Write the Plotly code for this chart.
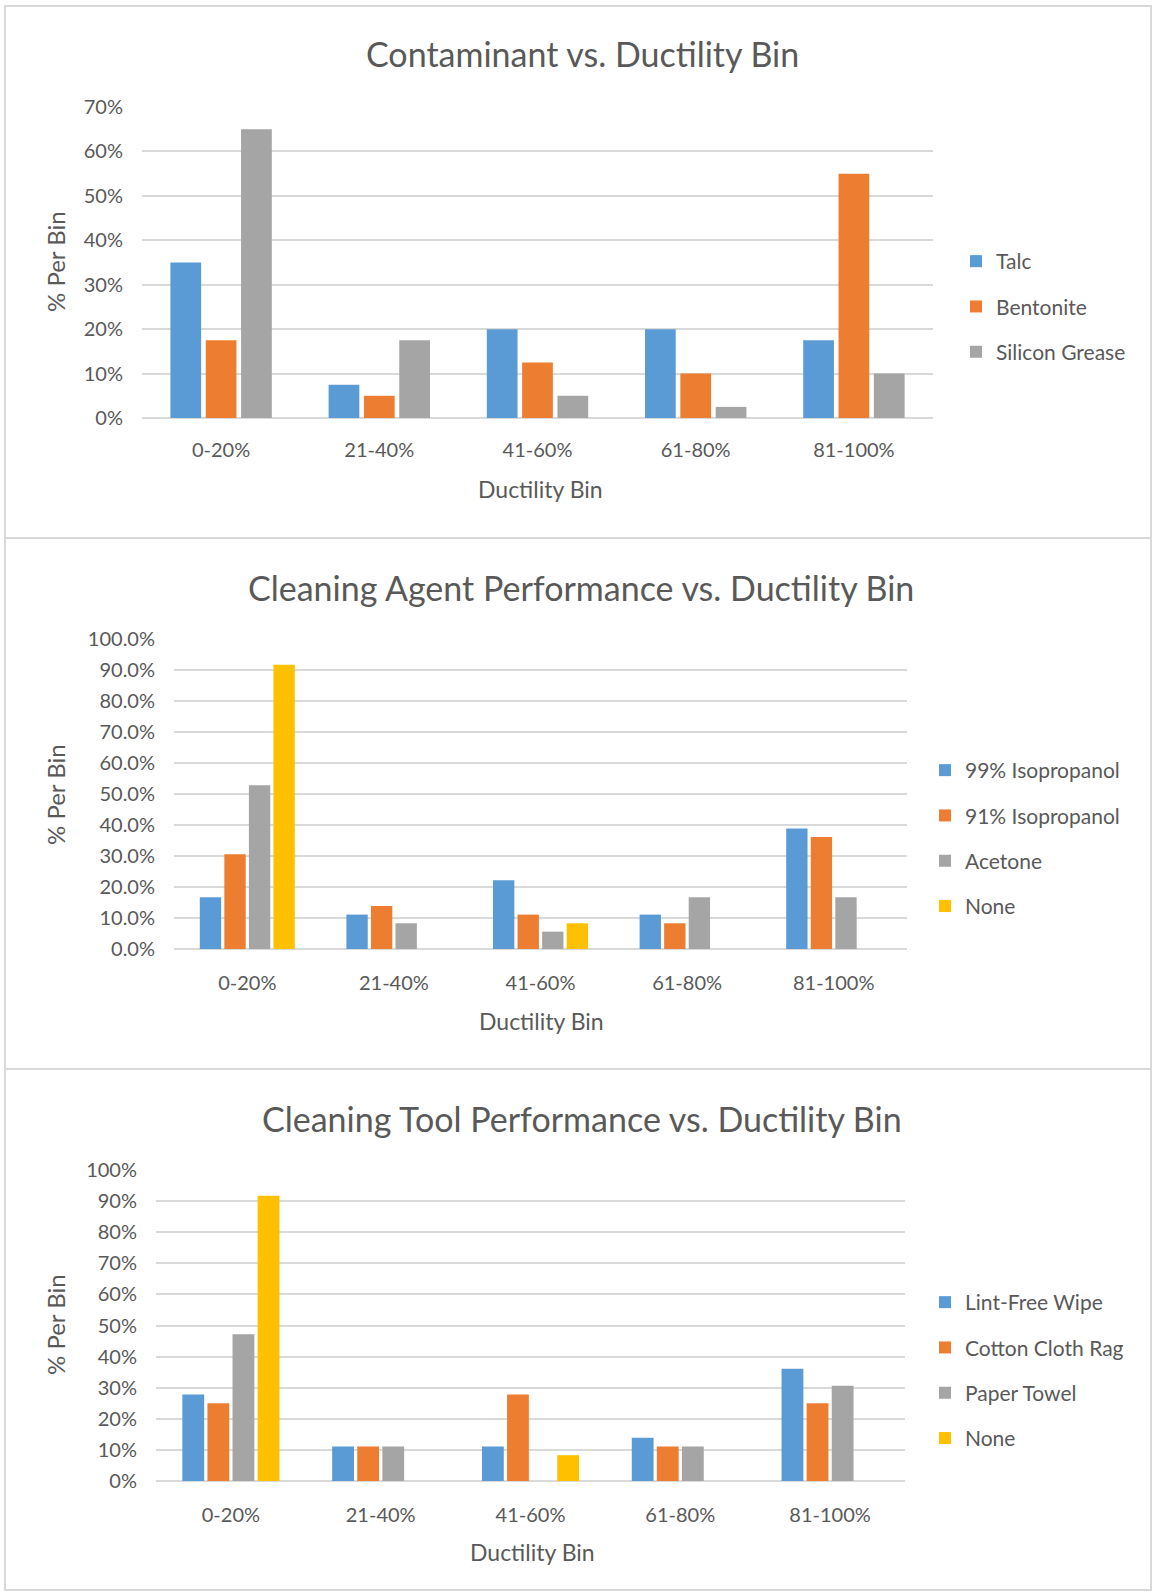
import plotly.graph_objects as go

W, H = 1152, 1596

bins = ["0-20%", "21-40%", "41-60%", "61-80%", "81-100%"]

# Chart 1: Contaminant
c1_names = ["Talc", "Bentonite", "Silicon Grease"]
talc = [0.35, 0.075, 0.20, 0.20, 0.175]
bentonite = [0.175, 0.05, 0.125, 0.10, 0.55]
silicon_grease = [0.65, 0.175, 0.05, 0.025, 0.10]

# Chart 2: Cleaning agent
c2_names = ["99% Isopropanol", "91% Isopropanol", "Acetone", "None"]
iso99 = [0.167, 0.111, 0.222, 0.111, 0.389]
iso91 = [0.306, 0.139, 0.111, 0.083, 0.361]
acetone = [0.528, 0.083, 0.056, 0.167, 0.167]
agent_none = [0.917, 0.0, 0.083, 0.0, 0.0]

# Chart 3: Cleaning tool
c3_names = ["Lint-Free Wipe", "Cotton Cloth Rag", "Paper Towel", "None"]
lint_free = [0.278, 0.111, 0.111, 0.139, 0.361]
cotton_rag = [0.25, 0.111, 0.278, 0.111, 0.25]
paper_towel = [0.472, 0.111, 0.0, 0.111, 0.306]
tool_none = [0.917, 0.0, 0.083, 0.0, 0.0]

colors = ["#5B9BD5", "#ED7D31", "#A5A5A5", "#FFC000"]
FONT = "Lato, Carlito, Calibri, sans-serif"
TXT = "#595959"
GRID = "#D9D9D9"


def px(x):
    return x / W


def py(y):
    return 1 - y / H


fig = go.Figure()

charts = [
    dict(names=c1_names, series=[talc, bentonite, silicon_grease], xr=(142, 933), yr=(107, 418),
         yrange=[0, 0.7], dtick=0.1, fmt=".0%", title="Contaminant vs. Ductility Bin",
         tx=582, ty=53, legx=956, legy=241, xt=540, xty=489, ytx=55, yty=262, xstand=18),
    dict(names=c2_names, series=[iso99, iso91, acetone, agent_none], xr=(174, 907), yr=(639, 949),
         yrange=[0, 1.0], dtick=0.1, fmt=".1%", title="Cleaning Agent Performance vs. Ductility Bin",
         tx=581, ty=587, legx=925, legy=750, xt=541, xty=1021, ytx=55, yty=795, xstand=20),
    dict(names=c3_names, series=[lint_free, cotton_rag, paper_towel, tool_none], xr=(156, 905), yr=(1170, 1481),
         yrange=[0, 1.0], dtick=0.1, fmt=".0%", title="Cleaning Tool Performance vs. Ductility Bin",
         tx=582, ty=1118, legx=925, legy=1282, xt=532, xty=1552, ytx=55, yty=1325, xstand=20),
]

layout = dict(
    width=W, height=H, margin=dict(l=0, r=0, t=0, b=0, autoexpand=False),
    paper_bgcolor="white", plot_bgcolor="white",
    font=dict(family=FONT, color=TXT, size=13),
    barmode="group", bargap=0.33, bargroupgap=0.13,
    annotations=[], shapes=[],
)

for i, ch in enumerate(charts):
    n = i + 1
    xa = "x" if n == 1 else f"x{n}"
    ya = "y" if n == 1 else f"y{n}"
    lg = "legend" if n == 1 else f"legend{n}"
    for j, (name, vals) in enumerate(zip(ch["names"], ch["series"])):
        fig.add_trace(go.Bar(
            x=bins, y=vals, name=name, xaxis=xa, yaxis=ya, legend=lg,
            legendgroup=f"g{n}_{j}",
            marker=dict(color=colors[j], line=dict(width=0)),
            offsetgroup=str(j), hoverinfo="x+y+name",
        ))
    xkey = "xaxis" if n == 1 else f"xaxis{n}"
    ykey = "yaxis" if n == 1 else f"yaxis{n}"
    layout[xkey] = dict(
        domain=[px(ch["xr"][0]), px(ch["xr"][1])], anchor=ya,
        showgrid=False, showline=False, zeroline=False, ticks="",
        tickfont=dict(size=20, color=TXT), ticklabelstandoff=ch["xstand"],
        automargin=False, fixedrange=True,
    )
    layout[ykey] = dict(
        domain=[py(ch["yr"][1]), py(ch["yr"][0])], anchor=xa,
        range=ch["yrange"], dtick=ch["dtick"], tickformat=ch["fmt"],
        showgrid=True, gridcolor=GRID, gridwidth=1.5, zeroline=True, zerolinecolor=GRID,
        zerolinewidth=1.5, showline=False, ticks="", tickfont=dict(size=20, color=TXT),
        ticklabelstandoff=18, automargin=False, fixedrange=True,
    )
    layout[lg] = dict(
        x=px(ch["legx"]), y=py(ch["legy"]), xanchor="left", yanchor="top",
        orientation="v", font=dict(size=21, color=TXT), tracegroupgap=15,
        bgcolor="rgba(0,0,0,0)", itemwidth=30,
    )
    layout["annotations"].append(dict(
        text=ch["title"], x=px(ch["tx"]), y=py(ch["ty"]), xref="paper", yref="paper",
        xanchor="center", yanchor="middle", showarrow=False,
        font=dict(size=34, color=TXT, family=FONT),
    ))
    layout["annotations"].append(dict(
        text="Ductility Bin", x=px(ch["xt"]), y=py(ch["xty"]), xref="paper", yref="paper",
        xanchor="center", yanchor="middle", showarrow=False,
        font=dict(size=23, color=TXT, family=FONT),
    ))
    layout["annotations"].append(dict(
        text="% Per Bin", x=px(ch["ytx"]), y=py(ch["yty"]), xref="paper", yref="paper",
        xanchor="center", yanchor="middle", showarrow=False, textangle=-90,
        font=dict(size=24, color=TXT, family=FONT),
    ))

# panel borders
for (t, b) in [(6, 538), (538, 1069), (1069, 1590)]:
    layout["shapes"].append(dict(
        type="rect", xref="paper", yref="paper",
        x0=px(5), x1=px(1151), y0=py(b), y1=py(t),
        line=dict(color="#D9D9D9", width=2), fillcolor="rgba(0,0,0,0)", layer="below",
    ))

fig.update_layout(**layout)
fig.write_html(
    "out.html",
    config={"displayModeBar": False},
    post_script="document.body.style.margin='0';document.body.style.overflow='hidden';",
)
